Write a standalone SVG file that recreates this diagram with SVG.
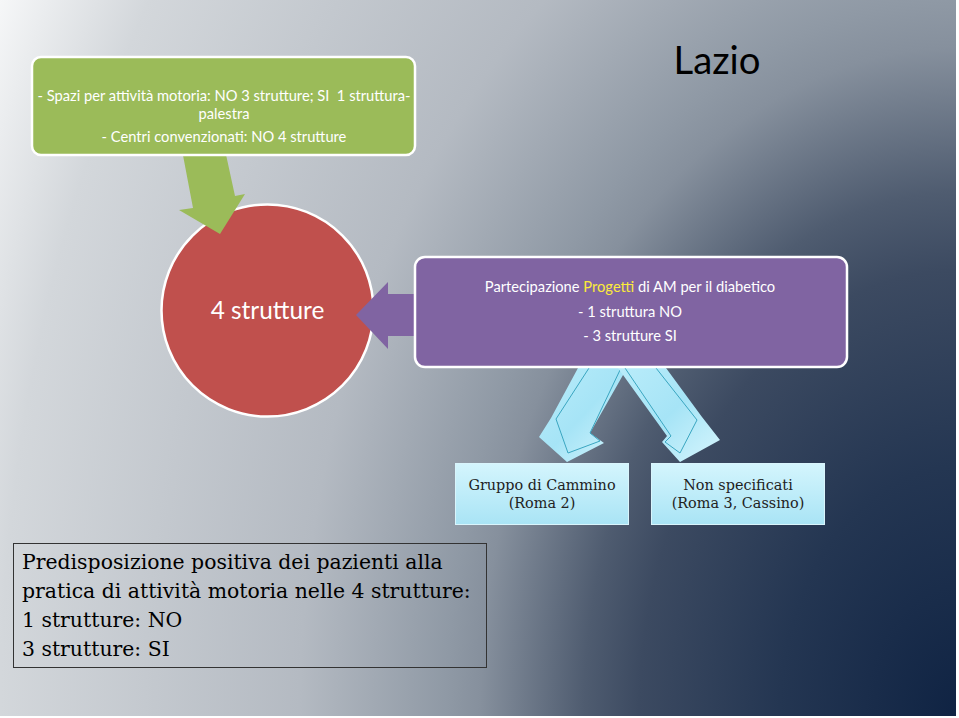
<svg xmlns="http://www.w3.org/2000/svg" width="959" height="718" viewBox="0 0 959 718">
<defs>
<radialGradient id="bg" gradientUnits="userSpaceOnUse" cx="959" cy="718" r="1088" fx="959" fy="718" gradientTransform="translate(959 718) scale(1 1.4) translate(-959 -718)">
<stop offset="0" stop-color="#0f2343"/>
<stop offset="0.165" stop-color="#243652"/>
<stop offset="0.294" stop-color="#3c4a61"/>
<stop offset="0.345" stop-color="#4f5c70"/>
<stop offset="0.44" stop-color="#86909d"/>
<stop offset="0.471" stop-color="#8f99a5"/>
<stop offset="0.606" stop-color="#b4bac2"/>
<stop offset="0.881" stop-color="#d3d7db"/>
<stop offset="1" stop-color="#f6f7f8"/>
</radialGradient>
<linearGradient id="boxg" x1="0" y1="0" x2="0" y2="1">
<stop offset="0" stop-color="#d4f5fd"/>
<stop offset="1" stop-color="#a9e4f5"/>
</linearGradient>
<linearGradient id="arrg" x1="0" y1="0" x2="1" y2="1">
<stop offset="0" stop-color="#b9ecfa"/>
<stop offset="0.5" stop-color="#a6e4f6"/>
<stop offset="1" stop-color="#d6f5fd"/>
</linearGradient>
<style>
.sans{font-family:Lato,"Liberation Sans",sans-serif;}
.serif{font-family:"DejaVu Serif","Liberation Serif",serif;}
.wstroke{stroke:#ffffff;stroke-width:2.5;}
.lb{fill:url(#boxg);stroke:#d9f5fc;stroke-width:1;}
.arr{fill:url(#arrg);}
.arrin{fill:none;stroke:#3aa6c1;stroke-width:1;stroke-linejoin:round;}
</style>
</defs>
<rect x="0" y="0" width="959" height="718" fill="url(#bg)"/>
<rect x="956" y="0" width="3" height="718" fill="#ffffff"/>
<rect x="0" y="716" width="959" height="2" fill="#ffffff"/>

<text class="sans" x="717" y="74" font-size="38.3" text-anchor="middle" fill="#000">Lazio</text>

<g id="node-circle">
<circle cx="267.5" cy="310.5" r="106" fill="#c0504d" class="wstroke"/>
<text class="sans" x="267.5" y="318.5" font-size="24.4" text-anchor="middle" fill="#fff">4 strutture</text>
</g>

<g id="connectors">
<polygon points="182,150 225,150 235,196 245,194 220,234 179,210 193,208" fill="#9bbb59"/>
<polygon points="430,294 388,294 388,282 356,315 388,349 388,336 430,336" fill="#8064a2"/>
<g id="arrow-left">
<polygon class="arr" points="578,368 627,368 590,433 604,443 567,462 539,437 551,418"/>
<polyline class="arrin" points="589,368 556,419 568,453 600,441 590,433 621,368"/>
</g>
<g id="arrow-right">
<polygon class="arr" points="618,368 666,368 702,417 720,440 680,462 662,442 667,436"/>
<polyline class="arrin" points="656,368 697,420 680,453 665,442 671,436 625,368"/>
</g>
</g>

<g id="node-green">
<rect x="32" y="57" width="383" height="98" rx="9" fill="#9bbb59" class="wstroke"/>
<text class="sans" x="224" y="101" font-size="14.7" text-anchor="middle" fill="#fff" xml:space="preserve">- Spazi per attività motoria: NO 3 strutture; SI  1 struttura-</text>
<text class="sans" x="224" y="119" font-size="14.7" text-anchor="middle" fill="#fff">palestra</text>
<text class="sans" x="224" y="142" font-size="14.7" text-anchor="middle" fill="#fff">- Centri convenzionati: NO 4 strutture</text>
</g>

<g id="node-purple">
<rect x="415" y="257" width="432" height="110" rx="10" fill="#8064a2" class="wstroke"/>
<text class="sans" x="630" y="292" font-size="14.7" text-anchor="middle" fill="#fff">Partecipazione <tspan fill="#fbea3a">Progetti</tspan> di AM per il diabetico</text>
<text class="sans" x="630" y="317" font-size="14.7" text-anchor="middle" fill="#fff">- 1 struttura NO</text>
<text class="sans" x="630" y="341" font-size="14.7" text-anchor="middle" fill="#fff">- 3 strutture SI</text>
</g>

<g id="node-gruppo">
<rect x="455.5" y="463.5" width="173" height="61" class="lb"/>
<text class="serif" x="542" y="490" font-size="14.4" text-anchor="middle" fill="#222">Gruppo di Cammino</text>
<text class="serif" x="542" y="508" font-size="14.4" text-anchor="middle" fill="#222">(Roma 2)</text>
</g>

<g id="node-nonspec">
<rect x="651.5" y="463.5" width="173" height="61" class="lb"/>
<text class="serif" x="738" y="490" font-size="14.4" text-anchor="middle" fill="#222">Non specificati</text>
<text class="serif" x="738" y="508" font-size="14.4" text-anchor="middle" fill="#222">(Roma 3, Cassino)</text>
</g>

<g id="node-note">
<rect x="13.5" y="543.5" width="473" height="124" fill="none" stroke="#333" stroke-width="1"/>
<text class="serif" font-size="20.4" fill="#000">
<tspan x="22" y="569">Predisposizione positiva dei pazienti alla</tspan>
<tspan x="22" y="598">pratica di attività motoria nelle 4 strutture:</tspan>
<tspan x="22" y="627">1 strutture: NO</tspan>
<tspan x="22" y="656">3 strutture: SI</tspan>
</text>
</g>
</svg>
